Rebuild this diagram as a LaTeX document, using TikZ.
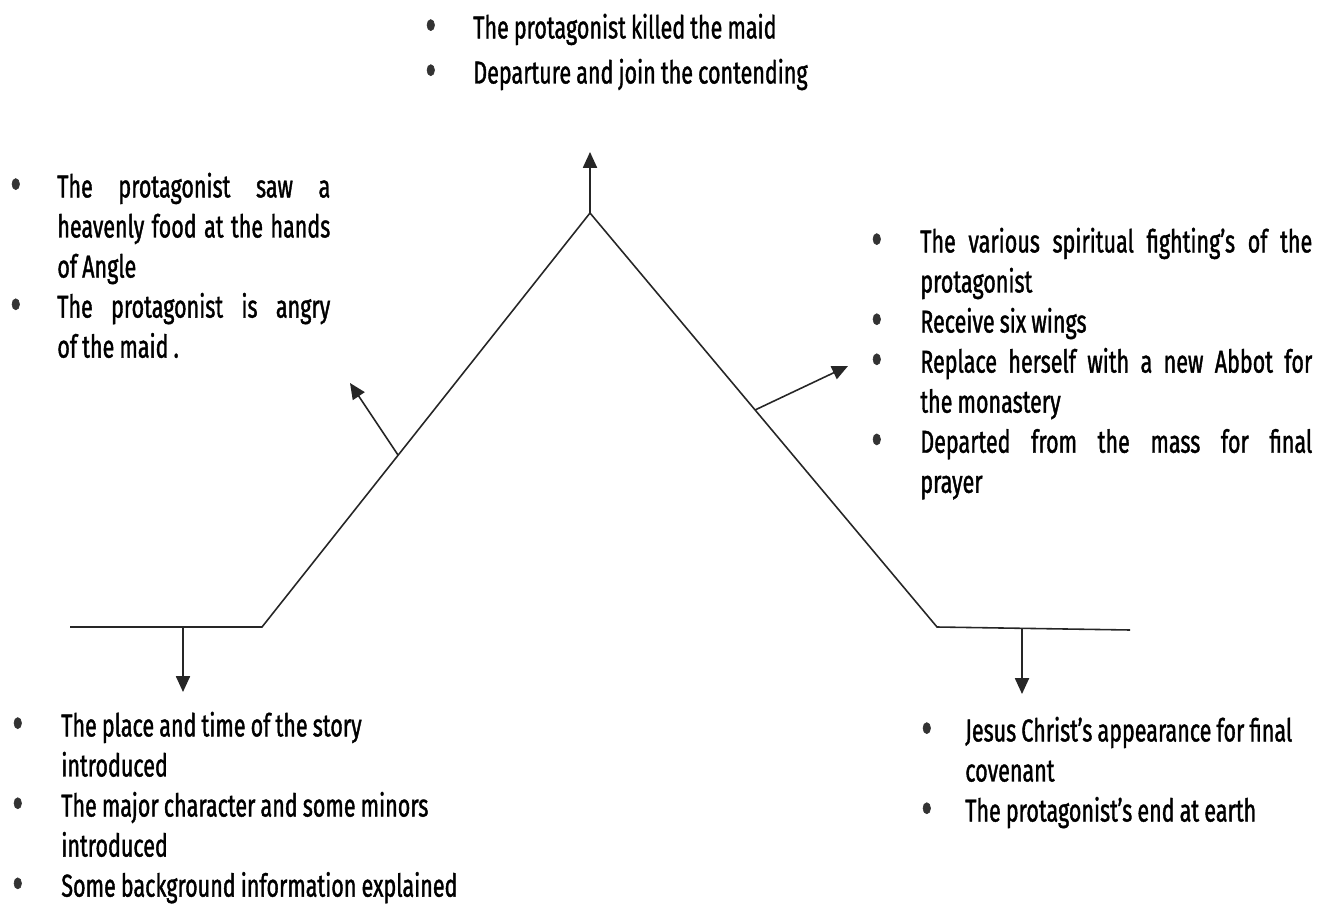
\documentclass[tikz,border=0pt]{standalone}
\usepackage{fontspec}
\setmainfont{Fira Sans}[FakeStretch=0.68, FakeBold=1.2, WordSpace=0.9]
\usepackage{enumitem}
\setlist[itemize]{label=\raisebox{-2pt}{\color{black!80}\fontsize{28}{28}\selectfont\textbullet}, labelindent=0pt, labelsep=0pt, align=left, itemsep=0pt, topsep=0pt, parsep=0pt, partopsep=0pt}
\usetikzlibrary{positioning, arrows.meta}

\begin{document}
\begin{tikzpicture}[x=0.02cm, y=-0.02cm, points/.style={text width=#1, align=justify, inner sep=0pt, anchor=north west, font=\fontsize{18}{22.8}\selectfont}, plot/.style={line width=0.9pt, draw=black!85}, pointer/.style={line width=0.9pt, draw=black!85, -{Triangle[width=8pt, length=9pt]}}]

    \useasboundingbox (0,0) rectangle (1331,905);

    % Coordinates
    \coordinate (baseL)  at (70,627);
    \coordinate (riseL)  at (262,627);
    \coordinate (peak)   at (590,213);
    \coordinate (fallR)  at (937,627);
    \coordinate (baseR)  at (1130,630);

    \coordinate (peaktip)    at (590,152);
    \coordinate (risefoot)   at (398,455);
    \coordinate (risetip)    at (350,383);
    \coordinate (fallfoot)   at (755,410);
    \coordinate (falltip)    at (848,366);
    \coordinate (expofoot)   at (183,627);
    \coordinate (expotip)    at (183,692);
    \coordinate (endfoot)    at (1022,628.5);
    \coordinate (endtip)     at (1022,694);

    % Nodes
    \node[points=8.5cm] (climax) at (425,-2) {\begin{itemize}[leftmargin=0.96cm, labelwidth=0.96cm, itemsep=0.1cm]
        \item The protagonist killed the maid
        \item Departure and join the contending
    \end{itemize}};
    \node[points=6.4cm] (rising) at (10,157) {\begin{itemize}[leftmargin=0.94cm, labelwidth=0.94cm]
        \item The protagonist saw a\linebreak heavenly food at the hands\linebreak of Angle
        \item The protagonist is angry\linebreak of the maid .
    \end{itemize}};
    \node[points=8.82cm] (falling) at (871,212) {\begin{itemize}[leftmargin=0.98cm, labelwidth=0.98cm]
        \item The various spiritual fighting’s of the\linebreak protagonist
        \item Receive six wings
        \item Replace herself with a new Abbot for\linebreak the monastery
        \item Departed from the mass for final\linebreak prayer
    \end{itemize}};
    \node[points=9.2cm] (exposition) at (12,696) {\begin{itemize}[leftmargin=0.98cm, labelwidth=0.98cm]
        \item The place and time of the story\\ introduced
        \item The major character and some minors\\ introduced
        \item Some background information explained
    \end{itemize}};
    \node[points=7.82cm] (resolution) at (921,701) {\begin{itemize}[leftmargin=0.88cm, labelwidth=0.88cm]
        \item Jesus Christ’s appearance for final\\ covenant
        \item The protagonist’s end at earth
    \end{itemize}};

    % Lines ---------------
    \draw[plot] (baseL) -- (riseL) -- (peak) -- (fallR) -- (baseR);
    \draw[pointer] (peak) -- (peaktip);
    \draw[pointer] (risefoot) -- (risetip);
    \draw[pointer] (fallfoot) -- (falltip);
    \draw[pointer] (expofoot) -- (expotip);
    \draw[pointer] (endfoot) -- (endtip);

\end{tikzpicture}
\end{document}
